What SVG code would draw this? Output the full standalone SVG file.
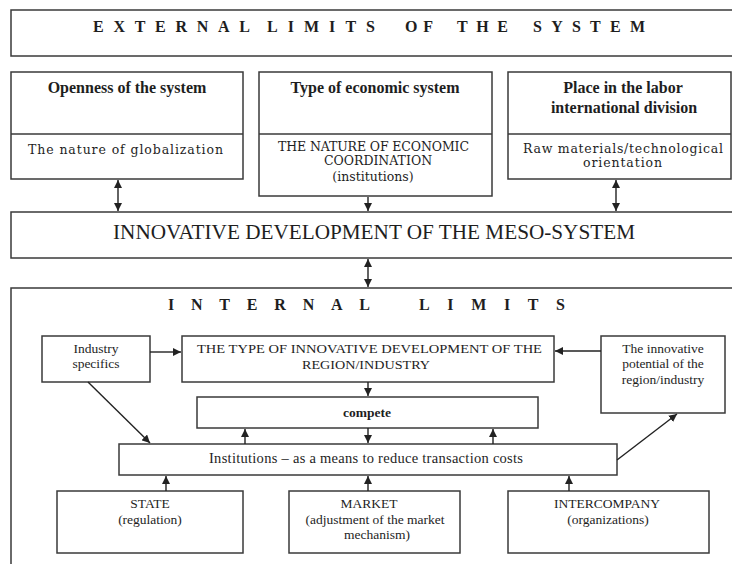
<svg xmlns="http://www.w3.org/2000/svg" width="732" height="564" viewBox="0 0 732 564">
<defs>
<marker id="ah" markerUnits="userSpaceOnUse" markerWidth="8" markerHeight="8" refX="8" refY="4" orient="auto-start-reverse">
<path d="M0,0 L8,4 L0,8 z" fill="#222"/>
</marker>
<style>
rect{fill:#fff;stroke:#3a3a3a;stroke-width:1.5}
.div{stroke:#3a3a3a;stroke-width:1.5}
.c line,.c path{stroke:#222;stroke-width:1.4;fill:none}
text{fill:#1e1e1e;font-family:"Liberation Serif","Times New Roman",serif}
.big{font-weight:bold;font-size:16px}
.tt{font-weight:bold;font-size:16px;text-anchor:middle}
.wide{font-family:"DejaVu Serif","Liberation Serif",serif;font-size:12.5px}
.wm{font-family:"DejaVu Serif","Liberation Serif",serif;font-size:12.5px;text-anchor:middle}
.m{text-anchor:middle;font-size:13.5px}
</style>
</defs>
<rect x="0" y="0" width="732" height="564" style="fill:#fff;stroke:none"/>

<g id="external">
<rect x="11" y="10" width="730" height="46"/>
<text class="big" x="93" y="32" textLength="157" lengthAdjust="spacing">EXTERNAL</text>
<text class="big" x="267" y="32" textLength="108" lengthAdjust="spacing">LIMITS</text>
<text class="big" x="405" y="32" textLength="28" lengthAdjust="spacing">OF</text>
<text class="big" x="457" y="32" textLength="51" lengthAdjust="spacing">THE</text>
<text class="big" x="533" y="32" textLength="112" lengthAdjust="spacing">SYSTEM</text>
</g>

<g id="openness">
<rect x="11" y="72" width="232" height="107"/>
<line class="div" x1="11" y1="134" x2="243" y2="134"/>
<text class="tt" x="127" y="93">Openness of the system</text>
<text class="wide" x="28" y="154" textLength="195" lengthAdjust="spacing">The nature of globalization</text>
</g>

<g id="economic">
<rect x="259" y="72" width="233" height="124"/>
<line class="div" x1="259" y1="134" x2="492" y2="134"/>
<text class="tt" x="375" y="93">Type of economic system</text>
<text class="wide" x="278" y="151" textLength="191" lengthAdjust="spacing">THE NATURE OF ECONOMIC</text>
<text class="wm" x="378" y="165">COORDINATION</text>
<text class="wm" x="373" y="181">(institutions)</text>
</g>

<g id="place">
<rect x="508" y="72" width="223" height="107"/>
<line class="div" x1="508" y1="134" x2="731" y2="134"/>
<text class="tt" x="623" y="93">Place in the labor</text>
<text class="tt" x="624" y="113">international division</text>
<text class="wide" x="523" y="153" textLength="200" lengthAdjust="spacing">Raw materials/technological</text>
<text class="wide" x="583" y="167" textLength="79" lengthAdjust="spacing">orientation</text>
</g>

<g id="meso">
<rect x="11" y="212" width="730" height="46"/>
<text x="113" y="239" font-size="20" textLength="522" lengthAdjust="spacingAndGlyphs">INNOVATIVE DEVELOPMENT OF THE MESO-SYSTEM</text>
</g>

<g id="internal">
<rect x="11" y="288" width="730" height="300"/>
<text class="big" x="168" y="310" textLength="202" lengthAdjust="spacing">INTERNAL</text>
<text class="big" x="419" y="310" textLength="146" lengthAdjust="spacing">LIMITS</text>
</g>

<g id="industry">
<rect x="42" y="336" width="108" height="46"/>
<text class="m" x="96" y="353">Industry</text>
<text class="m" x="96" y="368">specifics</text>
</g>

<g id="type">
<rect x="182" y="336" width="372" height="46"/>
<text class="m" x="197" y="353" style="text-anchor:start" textLength="345" lengthAdjust="spacingAndGlyphs">THE TYPE OF INNOVATIVE DEVELOPMENT OF THE</text>
<text class="m" x="302" y="369" style="text-anchor:start" textLength="128" lengthAdjust="spacingAndGlyphs">REGION/INDUSTRY</text>
</g>

<g id="potential">
<rect x="601" y="336" width="124" height="77"/>
<text class="m" x="663" y="353">The innovative</text>
<text class="m" x="663" y="368">potential of the</text>
<text class="m" x="663" y="384">region/industry</text>
</g>

<g id="compete">
<rect x="197" y="397" width="341" height="31"/>
<text class="m" x="367" y="417" font-weight="bold" font-size="14">compete</text>
</g>

<g id="institutions">
<rect x="119" y="444" width="498" height="31"/>
<text class="m" x="209" y="463" style="text-anchor:start;font-size:14.5px" textLength="314" lengthAdjust="spacing">Institutions – as a means to reduce transaction costs</text>
</g>

<g id="state">
<rect x="57" y="491" width="186" height="62"/>
<text class="m" x="150" y="508">STATE</text>
<text class="m" x="150" y="524">(regulation)</text>
</g>

<g id="market">
<rect x="289" y="491" width="171" height="62"/>
<text class="m" x="369" y="508">MARKET</text>
<text class="m" x="375" y="524">(adjustment of the market</text>
<text class="m" x="377" y="539">mechanism)</text>
</g>

<g id="intercompany">
<rect x="508" y="491" width="201" height="62"/>
<text class="m" x="607" y="508">INTERCOMPANY</text>
<text class="m" x="608" y="524">(organizations)</text>
</g>

<g id="connectors" class="c">
<line x1="118" y1="180" x2="118" y2="211" marker-start="url(#ah)" marker-end="url(#ah)"/>
<line x1="368" y1="197" x2="368" y2="211" marker-end="url(#ah)"/>
<line x1="616" y1="180" x2="616" y2="211" marker-start="url(#ah)" marker-end="url(#ah)"/>
<line x1="368" y1="259" x2="368" y2="287" marker-start="url(#ah)" marker-end="url(#ah)"/>
<line x1="150" y1="352" x2="181" y2="352" marker-end="url(#ah)"/>
<line x1="601" y1="351" x2="555" y2="351" marker-end="url(#ah)"/>
<line x1="368" y1="382" x2="368" y2="396" marker-end="url(#ah)"/>
<line x1="368" y1="428" x2="368" y2="443" marker-end="url(#ah)"/>
<line x1="245" y1="444" x2="245" y2="429" marker-end="url(#ah)"/>
<line x1="493" y1="444" x2="493" y2="429" marker-end="url(#ah)"/>
<line x1="88" y1="382" x2="150" y2="443" marker-end="url(#ah)"/>
<line x1="617" y1="460" x2="677" y2="414" marker-end="url(#ah)"/>
<line x1="166" y1="491" x2="166" y2="476" marker-end="url(#ah)"/>
<line x1="368" y1="491" x2="368" y2="476" marker-end="url(#ah)"/>
<line x1="569" y1="491" x2="569" y2="476" marker-end="url(#ah)"/>
</g>
</svg>
